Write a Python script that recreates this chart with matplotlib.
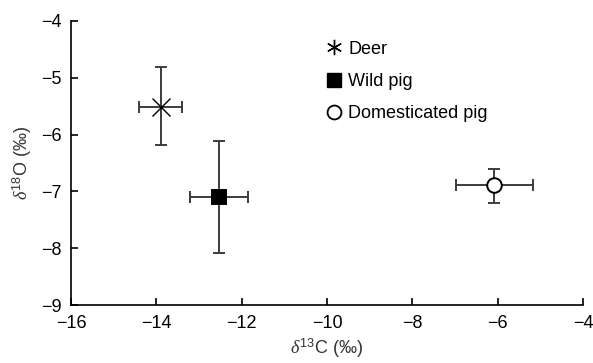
import matplotlib.pyplot as plt
from matplotlib.lines import Line2D

plt.rcParams['font.family'] = ['Liberation Sans', 'DejaVu Sans']
plt.rcParams['mathtext.fontset'] = 'custom'
plt.rcParams['mathtext.it'] = 'Liberation Serif:italic'
plt.rcParams['mathtext.rm'] = 'Liberation Sans'

# group means and error bars (per mil)
groups = ['Deer', 'Wild pig', 'Domesticated pig']
d13c = [-13.9, -12.53, -6.08]
d18o = [-5.51, -7.09, -6.88]
xerr = [0.5, 0.68, 0.9]
yerr_lo = [0.68, 1.0, 0.32]
yerr_hi = [0.7, 0.98, 0.27]

markers = ['x', 's', 'o']
faces = ['none', 'black', 'white']
sizes = [13, 10.5, 10.5]

fig = plt.figure(figsize=(5.93, 3.63), dpi=100)
ax = fig.add_axes([0.1197, 0.159, 0.8634, 0.784])

ecol = '#3c3c3c'
for i in range(len(groups)):
    ax.errorbar(d13c[i], d18o[i], xerr=xerr[i], yerr=[[yerr_lo[i]], [yerr_hi[i]]],
                fmt='none', ecolor=ecol, elinewidth=1.4, capsize=4, capthick=1.4, zorder=2)
    ax.plot(d13c[i], d18o[i], marker=markers[i], ms=sizes[i], mfc=faces[i],
            mec='black', mew=1.4 if i != 0 else 1.0, ls='none', zorder=3)

ax.set_xlim(-16, -4)
ax.set_ylim(-9, -4)
ax.set_xticks(range(-16, -3, 2))
ax.set_yticks(range(-9, -3))
ax.set_xticklabels(['\u2212%d' % abs(v) for v in range(-16, -3, 2)])
ax.set_yticklabels(['\u2212%d' % abs(v) for v in range(-9, -3)])
ax.spines['top'].set_visible(False)
ax.spines['right'].set_visible(False)
for s in ['left', 'bottom']:
    ax.spines[s].set_linewidth(1.2)
ax.tick_params(direction='in', length=5, width=1.2, labelsize=13, pad=7)

ax.set_xlabel(r'$\mathit{\delta}^{13}$C (‰)', fontsize=13, color='#333333', labelpad=3)
ax.set_ylabel(r'$\mathit{\delta}^{18}$O (‰)', fontsize=13, color='#333333', labelpad=5)

handles = [
    Line2D([], [], marker=(6, 2, 0), ms=11, mec='black', mew=1.0, ls='none'),
    Line2D([], [], marker='s', ms=10.5, mfc='black', mec='black', ls='none'),
    Line2D([], [], marker='o', ms=10, mfc='white', mec='black', mew=1.3, ls='none'),
]
ax.legend(handles, groups, loc='upper left', bbox_to_anchor=(0.48, 0.955), frameon=False,
          fontsize=13, handletextpad=0.25, labelspacing=0.85, handlelength=1.1,
          borderaxespad=0)

fig.savefig('out.png', dpi=100)
